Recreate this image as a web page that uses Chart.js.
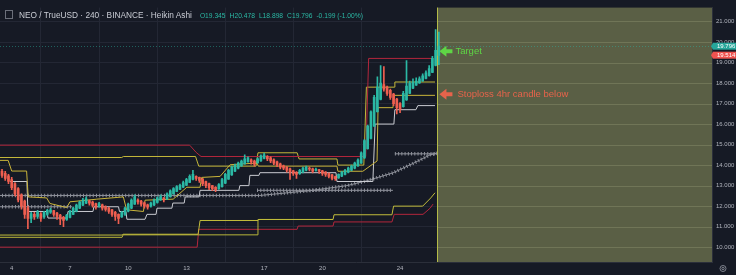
<!DOCTYPE html>
<html><head><meta charset="utf-8">
<script src="https://cdn.jsdelivr.net/npm/chart.js@4.4.1/dist/chart.umd.min.js"></script>
<style>
html,body{margin:0;padding:0;background:#161a25;overflow:hidden}
#wrap{position:relative;width:736px;height:275px;background:#161a25}
#c{position:absolute;left:0;top:0}
#hdr{position:absolute;left:5px;top:7px;white-space:nowrap;font-family:"Liberation Sans",Arial,sans-serif;line-height:11px}
#hdr .ico{display:inline-block;width:6px;height:7px;border:1px solid #6b6f7a;margin-right:6px;vertical-align:-1px}
#hdr .sym{font-size:8.3px;color:#c9ccd4}
#hdr .ohlc{font-size:6.7px;color:#2bb9a5;margin-left:8px}
#hdr .ohlc i{font-style:normal;color:#2bb9a5;margin-left:4px}
.note{position:absolute;white-space:nowrap;font-family:"Liberation Sans",Arial,sans-serif;font-size:9.5px;line-height:10px}
</style></head>
<body><div id="wrap"><canvas id="c" width="736" height="275"></canvas>
<div id="hdr"></div>
<div class="note" id="tgt" style="color:#5fd545">Target</div>
<div class="note" id="stp" style="color:#e7634b">Stoploss 4hr candle below</div>
</div>
<script>
// ---------- data ----------
const tickLabels = ['4','7','10','13','17','20','24'];
const tickIndex  = [4,22,40,58,82,100,124];
const priceTicks = [10,11,12,13,14,15,16,17,18,19,20,21];

const opens = [
13.80,13.70,13.60,13.48,13.30,13.10,12.85,12.55,12.25,11.90,
11.40,11.60,11.50,11.62,11.48,11.60,11.70,11.78,11.66,11.56,
11.45,11.35,11.45,11.60,11.75,11.90,12.05,12.15,12.26,12.20,
12.12,12.00,12.06,11.98,11.90,11.82,11.70,11.60,11.48,11.60,
11.75,11.90,12.10,12.30,12.25,12.16,12.06,12.00,12.06,12.18,
12.30,12.40,12.35,12.46,12.60,12.72,12.82,12.92,13.02,13.16,
13.30,13.45,13.40,13.32,13.20,13.10,13.00,12.92,12.85,12.95,
13.12,13.32,13.52,13.70,13.85,13.96,14.06,14.16,14.26,14.20,
14.12,14.20,14.32,14.42,14.36,14.26,14.16,14.06,13.96,13.90,
13.82,13.72,13.65,13.58,13.66,13.75,13.86,13.82,13.74,13.78,
13.72,13.66,13.60,13.52,13.44,13.38,13.46,13.55,13.65,13.75,
13.85,13.96,14.10,14.35,14.80,15.30,15.90,16.60,17.20,17.92,
17.80,17.65,17.46,17.22,17.00,16.85,17.18,17.50,17.75,17.90,
18.00,18.10,18.22,18.36,18.52,18.86,19.345];
const highs = [
13.95,13.80,13.70,13.55,13.40,13.15,12.90,12.60,12.30,12.00,
11.70,11.70,11.80,11.68,11.75,11.85,11.90,11.80,11.70,11.60,
11.50,11.60,11.80,11.95,12.10,12.25,12.38,12.45,12.30,12.25,
12.15,12.18,12.10,12.02,11.95,11.85,11.75,11.62,11.75,11.95,
12.15,12.35,12.55,12.35,12.28,12.20,12.10,12.20,12.35,12.45,
12.55,12.42,12.65,12.80,12.90,13.00,13.08,13.22,13.36,13.52,
13.75,13.48,13.42,13.35,13.22,13.12,13.02,12.95,13.10,13.35,
13.60,13.80,13.95,14.05,14.15,14.25,14.50,14.40,14.30,14.24,
14.35,14.50,14.58,14.46,14.40,14.30,14.20,14.10,14.00,13.93,
13.85,13.75,13.68,13.80,13.90,13.95,13.90,13.85,13.85,13.80,
13.75,13.68,13.62,13.55,13.46,13.58,13.70,13.80,13.90,14.00,
14.15,14.30,14.65,15.25,15.95,16.65,17.40,18.30,18.85,18.80,
17.85,17.70,17.50,17.25,17.05,17.60,19.10,18.10,18.20,18.25,
18.30,18.45,18.60,18.85,19.30,20.60,20.478];
const lows = [
13.50,13.40,13.25,13.10,12.80,12.50,12.20,11.85,11.40,10.90,
11.20,11.35,11.40,11.25,11.40,11.55,11.65,11.50,11.35,11.10,
11.00,11.30,11.42,11.58,11.72,11.88,12.02,12.12,12.05,11.95,
11.85,11.95,11.80,11.75,11.65,11.50,11.30,11.15,11.45,11.55,
11.72,11.88,12.08,12.10,12.00,11.90,11.85,11.95,12.02,12.15,
12.28,12.20,12.32,12.44,12.58,12.70,12.80,12.90,13.00,13.14,
13.28,13.25,13.15,13.00,12.90,12.80,12.75,12.70,12.82,12.92,
13.10,13.30,13.50,13.68,13.82,13.94,14.04,14.14,14.05,13.95,
14.08,14.18,14.30,14.22,14.12,14.02,13.92,13.82,13.78,13.65,
13.30,13.50,13.35,13.55,13.62,13.72,13.72,13.62,13.70,13.60,
13.50,13.45,13.38,13.28,13.25,13.35,13.44,13.52,13.62,13.72,
13.82,13.94,14.08,14.32,14.78,15.28,15.88,16.58,17.18,17.60,
17.40,17.20,16.90,16.50,16.55,16.82,17.15,17.48,17.72,17.88,
17.98,18.08,18.20,18.34,18.50,18.84,18.898];
const closes = [
13.60,13.50,13.35,13.20,12.90,12.60,12.30,12.00,11.60,11.40,
11.62,11.48,11.72,11.40,11.70,11.80,11.82,11.60,11.50,11.36,
11.30,11.56,11.76,11.90,12.05,12.20,12.30,12.36,12.14,12.04,
11.95,12.12,11.90,11.84,11.74,11.60,11.50,11.40,11.70,11.90,
12.10,12.30,12.45,12.20,12.10,12.00,11.95,12.15,12.30,12.40,
12.46,12.30,12.60,12.75,12.85,12.95,13.02,13.15,13.30,13.45,
13.55,13.35,13.25,13.10,13.00,12.90,12.85,12.80,13.05,13.30,
13.55,13.75,13.90,14.00,14.10,14.20,14.30,14.35,14.15,14.05,
14.30,14.45,14.50,14.30,14.20,14.10,14.00,13.90,13.85,13.75,
13.65,13.60,13.55,13.75,13.85,13.90,13.80,13.70,13.80,13.70,
13.60,13.55,13.45,13.35,13.34,13.55,13.65,13.75,13.85,13.95,
14.10,14.25,14.60,15.20,15.90,16.60,17.30,17.80,18.00,17.70,
17.50,17.30,17.00,16.80,16.70,17.50,17.85,18.00,18.05,18.10,
18.20,18.35,18.50,18.70,19.20,19.60,19.796];

const changeText = '-0.199 (-1.00%)';
const realClose = 19.514;
const forecastStart = 135.4;
const targetLevel = 19.55;
const stopLevel = 17.45;

// indicator lines: [bar index, price]
const redHighLine = [[0,14.97],[59,14.97],[61,14.62],[62.5,14.42],[113.4,14.42],[114.3,19.2],[134.2,19.2]];
const yellowHighLine = [[0,14.37],[38,14.37],[38.5,14.42],[60.8,14.42],[61.8,13.95],[79.5,13.95],[80.1,14.6],[92.2,14.6],[92.8,14.3],[104.5,14.3],[104.8,14.0],[112.8,14.0],[113.6,17.8],[122.2,17.8],[122.4,18.05],[134.8,18.05]];
const yellowMidLine = [[0,14.23],[2.9,14.23],[4.0,13.71],[8.6,13.71],[9.1,12.45],[14.8,12.4],[15.8,12.13],[21.0,11.93],[22.0,12.21],[30.3,12.34],[38.5,12.45],[39.5,11.82],[44.7,11.74],[45.2,12.29],[53.9,12.34],[58.1,12.92],[62.2,12.92],[62.7,13.4],[68.4,13.45],[71.5,14.02],[79.8,14.1],[80.2,13.95],[104.5,13.95],[104.8,13.7],[112.5,13.7],[116.9,14.2],[117.2,16.8],[121.8,16.8],[122.2,17.4],[134.8,17.4]];
const whiteLine = [[3.5,13.2],[8.7,13.2],[9.0,11.74],[14.9,11.74],[15.2,11.42],[21.1,11.42],[21.4,11.74],[29.1,11.74],[29.4,11.97],[37,11.97],[37.3,11.74],[39.3,11.74],[39.6,11.36],[45.2,11.36],[45.8,11.6],[48.6,11.6],[48.9,11.9],[53.5,11.9],[53.8,12.15],[57.3,12.15],[57.6,12.45],[61.9,12.45],[62.2,12.77],[74.2,12.77],[74.5,13.0],[77.3,13.0],[77.6,13.5],[80.4,13.5],[80.7,13.63],[104.2,13.63],[104.5,13.2],[115.6,13.2],[116.3,16.0],[122.1,16.0],[122.4,16.7],[128.9,16.7],[129.5,16.9],[134.8,16.9]];
const yellowLowLine1 = [[0,10.59],[38.1,10.59],[38.4,10.63],[61.6,10.63],[62.2,11.3],[80.1,11.3],[80.4,11.35],[103.3,11.35],[103.6,11.58],[121.5,11.58],[122.0,12.0],[131.0,12.0],[133.5,12.4],[134.8,12.65]];
const yellowLowLine2 = [[0,10.48],[38.1,10.48],[38.4,10.6],[79.8,10.6],[80.1,11.35],[103.3,11.35]];
const redLowLine = [[0,10.0],[61.3,10.0],[61.8,10.87],[92.2,10.87],[92.5,11.03],[103.3,11.03],[103.6,11.23],[121.5,11.23],[122.2,11.6],[131.1,11.6],[133.3,11.9],[134.2,12.1]];
const crossLineA = [[0,12.52],[80.7,12.52],[97.1,12.77],[107.6,13.0],[113.8,13.24],[121.8,13.62],[128,14.08],[133.3,14.5],[135.4,14.58]];
const crossLineB = [[0,11.97],[22.6,11.97]];
const crossLineC = [[79.8,12.77],[121.8,12.77]];
const crossLineD = [[122.4,14.55],[135.4,14.55]];

// ---------- chart ----------
const TEAL = '#2bb9a5', RED = '#ef5f50';
const candleColors = closes.map((c,i)=> c >= opens[i] ? TEAL : RED);
const pts = arr => arr.map(p => ({x:p[0], y:p[1]}));
function lineDs(arr, color, width, extra){
  return Object.assign({type:'line', data:pts(arr), borderColor:color, borderWidth:width,
    pointRadius:0, tension:0, fill:false, order:3, clip:false}, extra||{});
}
const last = closes.length - 1;

const bgPlugin = {
  id:'bg',
  beforeDraw(chart){
    const c = chart.ctx; c.save(); c.fillStyle = '#161a25';
    c.fillRect(0,0,chart.width,chart.height); c.restore();
  },
  beforeDatasetsDraw(chart){
    const c = chart.ctx, a = chart.chartArea, xs = chart.scales.x, ys = chart.scales.y;
    const x0 = Math.round(xs.getPixelForValue(forecastStart));
    c.save();
    c.fillStyle = '#5a5f45';
    c.fillRect(x0, a.top, a.right - x0, a.bottom - a.top);
    c.strokeStyle = 'rgba(160,166,128,0.32)'; c.lineWidth = 1;
    priceTicks.forEach(t => { const y = Math.round(ys.getPixelForValue(t)) + 0.5;
      c.beginPath(); c.moveTo(x0, y); c.lineTo(a.right, y); c.stroke(); });
    c.strokeStyle = '#b4bb48';
    c.beginPath(); c.moveTo(x0+0.5, a.top); c.lineTo(x0+0.5, a.bottom); c.stroke();
    // last price line
    const yp = Math.round(ys.getPixelForValue(closes[last])) + 0.5;
    c.strokeStyle = 'rgba(43,185,165,0.45)'; c.setLineDash([1,2]);
    c.beginPath(); c.moveTo(a.left, yp); c.lineTo(a.right, yp); c.stroke();
    c.restore();
  },
  afterDraw(chart){
    const c = chart.ctx, a = chart.chartArea, xs = chart.scales.x, ys = chart.scales.y;
    c.save();
    function tag(val, col, yc){
      c.fillStyle = col; c.fillRect(a.right + 1, yc - 3.5, 24, 7);
      c.beginPath(); c.moveTo(a.right - 1, yc); c.lineTo(a.right + 1, yc - 3.5); c.lineTo(a.right + 1, yc + 3.5); c.fill();
      c.fillStyle = '#ffffff'; c.font = '6px "Liberation Sans", Arial'; c.textBaseline = 'middle'; c.textAlign = 'left';
      c.fillText(val.toFixed(3), a.right + 5, yc + 0.3);
    }
    const yG = ys.getPixelForValue(closes[last]);
    let yR = ys.getPixelForValue(realClose);
    if (yR - yG < 9) yR = yG + 9;
    tag(closes[last], '#26a69a', yG);
    tag(realClose, '#ef5350', yR);
    const xa = xs.getPixelForValue(forecastStart) + 2.5;
    function arrow(yv, col){
      const y = ys.getPixelForValue(yv);
      c.fillStyle = col; c.beginPath();
      c.moveTo(xa, y); c.lineTo(xa + 7, y - 5.5); c.lineTo(xa + 7, y - 2); c.lineTo(xa + 13, y - 2);
      c.lineTo(xa + 13, y + 2); c.lineTo(xa + 7, y + 2); c.lineTo(xa + 7, y + 5.5); c.closePath(); c.fill();
      return y;
    }
    const yt = arrow(targetLevel, '#5fd545');
    const ys2 = arrow(stopLevel, '#e7634b');
    const tg = document.getElementById('tgt'), st = document.getElementById('stp');
    tg.style.left = (xa + 16) + 'px'; tg.style.top = (yt - 5.5) + 'px';
    st.style.left = (xa + 18) + 'px'; st.style.top = (ys2 - 5) + 'px';
    c.strokeStyle = '#7d818c'; c.lineWidth = 1;
    c.beginPath(); c.arc(a.right + 11, a.bottom + 6.5, 3, 0, Math.PI*2); c.stroke();
    c.beginPath(); c.arc(a.right + 11, a.bottom + 6.5, 1.2, 0, Math.PI*2); c.stroke();
    c.restore();
  }
};

const crossGray = '#8e919a';
const chart = new Chart(document.getElementById('c'), {
  type:'bar',
  data:{ datasets:[
    {type:'bar', data: lows.map((l,i)=>({x:i, y:[l, highs[i]]})), backgroundColor:candleColors,
      barThickness:1, grouped:false, order:1},
    {type:'bar', data: opens.map((o,i)=>({x:i, y:[o, closes[i]]})), backgroundColor:candleColors,
      barThickness:2, grouped:false, order:0, minBarLength:1},
    lineDs(redHighLine, '#b3263c', 1),
    lineDs(yellowHighLine, '#c4b83a', 1),
    lineDs(yellowMidLine, '#c9b43a', 1),
    lineDs(whiteLine, '#c9cbd1', 1),
    lineDs(yellowLowLine1, '#c2bd3b', 1),
    lineDs(yellowLowLine2, '#b8b43a', 1),
    lineDs(redLowLine, '#b3263c', 1),
    lineDs(crossLineA, crossGray, 1), lineDs(crossLineA, crossGray, 3.5, {borderDash:[1,2.24]}),
    lineDs(crossLineB, crossGray, 1), lineDs(crossLineB, crossGray, 3.5, {borderDash:[1,2.24]}),
    lineDs(crossLineC, crossGray, 1), lineDs(crossLineC, crossGray, 3.5, {borderDash:[1,2.24]}),
    lineDs(crossLineD, crossGray, 1), lineDs(crossLineD, crossGray, 3.5, {borderDash:[1,2.24]})
  ]},
  options:{
    responsive:false, animation:false, devicePixelRatio:1,
    layout:{padding:0},
    plugins:{legend:{display:false}, tooltip:{enabled:false}},
    scales:{
      x:{type:'linear', min:0.38, max:220.4, position:'bottom', offset:false,
        afterBuildTicks(s){ s.ticks = tickIndex.map(v=>({value:v})); },
        afterFit(s){ s.height = 13; },
        grid:{color:'#232734', drawTicks:false},
        border:{color:'#2b2f3a'},
        ticks:{autoSkip:false, maxRotation:0, padding:3, color:'#b2b5be',
          font:{size:6, family:'"Liberation Sans", Arial'},
          callback(v){ const k = tickIndex.indexOf(v); return k >= 0 ? tickLabels[k] : ''; }}
      },
      y:{type:'linear', position:'right', min:9.277, max:21.677,
        afterBuildTicks(s){ s.ticks = priceTicks.map(v=>({value:v})); },
        afterFit(s){ s.width = 24; },
        grid:{color:'#232734', drawTicks:false},
        border:{color:'#2b2f3a'},
        ticks:{padding:4, color:'#b2b5be', font:{size:6, family:'"Liberation Sans", Arial'},
          callback(v){ return v.toFixed(3); }}
      }
    }
  },
  plugins:[bgPlugin]
});

document.getElementById('hdr').innerHTML =
  '<span class="ico"></span><span class="sym">NEO / TrueUSD \u00b7 240 \u00b7 BINANCE \u00b7 Heikin Ashi</span>' +
  '<span class="ohlc">O' + opens[last].toFixed(3) + '<i>H</i>' + highs[last].toFixed(3) +
  '<i>L</i>' + lows[last].toFixed(3) + '<i>C</i>' + closes[last].toFixed(3) + '<i></i>' + changeText + '</span>';
</script>
</body></html>
